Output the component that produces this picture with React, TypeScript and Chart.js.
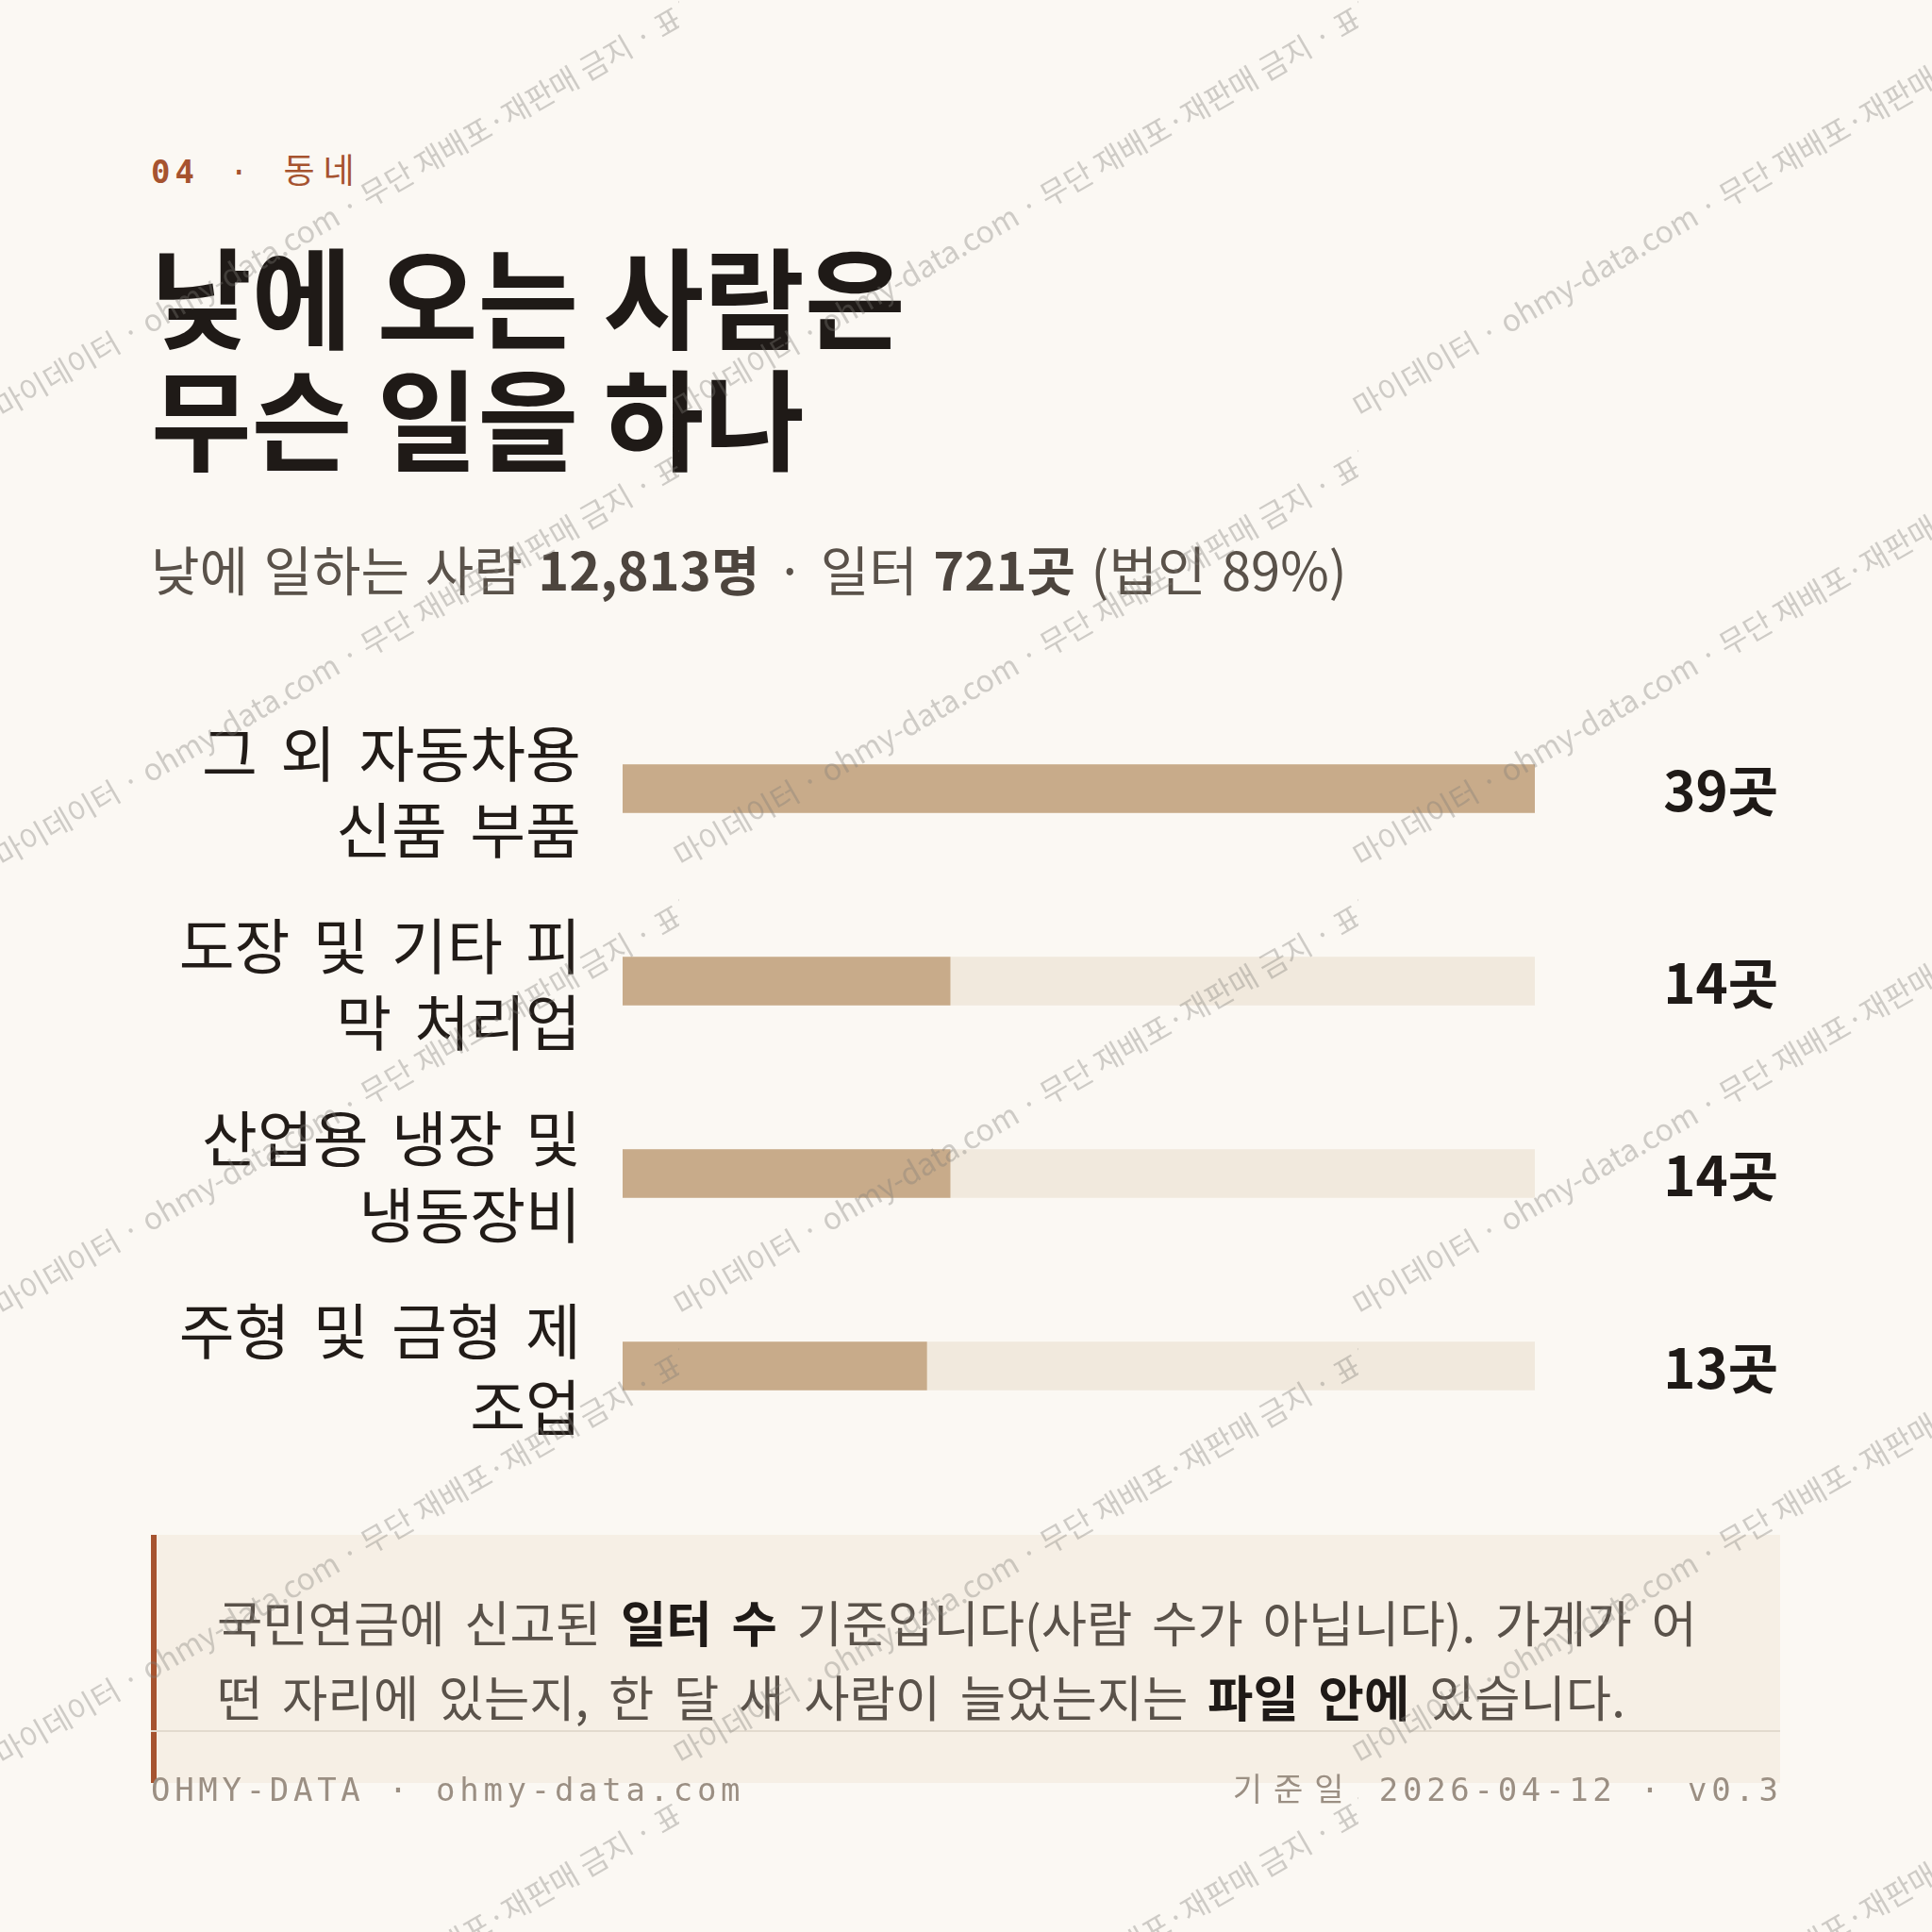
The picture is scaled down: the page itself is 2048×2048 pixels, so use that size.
import React, { useEffect, useRef } from "react";
import { Chart, registerables } from "chart.js";

Chart.register(...registerables);

// ---- data ----
const categories: string[][] = [
  ["그 외 자동차용", "신품 부품"],
  ["도장 및 기타 피", "막 처리업"],
  ["산업용 냉장 및", "냉동장비"],
  ["주형 및 금형 제", "조업"],
];
const values: number[] = [39, 14, 14, 13];
const valueUnit = "곳";

const kickerNum = "04";
const kickerText = "동네";
const titleLines: string[] = ["낮에 오는 사람은", "무슨 일을 하나"];
const footerLeft = "OHMY-DATA · ohmy-data.com";
const footerDateLabel = "기준일";
const footerDate = "2026-04-12 · v0.3";
const watermarkText = "마이데이터 · ohmy-data.com · 무단 재배포·재판매 금지 · 표본 수집 금지";

// ---- style ----
const KOR = '"Noto Sans CJK KR", "Noto Sans", sans-serif';
const MONO = '"DejaVu Sans Mono", "Noto Sans CJK KR", monospace';
const BG = "#fbf8f3";
const INK = "#1f1a17";
const SUB = "#5a524a";
const ACCENT = "#a6532f";
const BAR = "#c8ab8a";
const TRACK = "#f1e9dd";

function BarChart() {
  const ref = useRef<HTMLCanvasElement>(null);
  useEffect(() => {
    const maxV = Math.max(...values);
    const spacingPlugin = {
      id: "wordSpacing",
      beforeDraw(chart: any) {
        try {
          chart.ctx.wordSpacing = "10px";
        } catch (e) {}
      },
    };
    const valuePlugin = {
      id: "valueLabels",
      afterDatasetsDraw(chart: any) {
        const { ctx, chartArea, scales } = chart;
        ctx.save();
        ctx.font = `700 58px ${KOR}`;
        ctx.fillStyle = INK;
        ctx.textAlign = "right";
        ctx.textBaseline = "middle";
        values.forEach((v, i) => {
          const y = scales.y.getPixelForValue(i);
          ctx.fillText(`${v}${valueUnit}`, chartArea.right + 258, y + 2);
        });
        ctx.restore();
      },
    };
    const chart = new Chart(ref.current as HTMLCanvasElement, {
      type: "bar",
      data: {
        labels: categories,
        datasets: [
          {
            data: values,
            backgroundColor: BAR,
            order: 1,
            grouped: false,
            barThickness: 51,
            borderWidth: 0,
          } as any,
          {
            data: values.map(() => maxV),
            backgroundColor: TRACK,
            order: 2,
            grouped: false,
            barThickness: 51,
            borderWidth: 0,
          } as any,
        ],
      },
      options: {
        indexAxis: "y",
        responsive: false,
        animation: false,
        devicePixelRatio: 1,
        layout: { padding: { left: 0, right: 421, top: 100, bottom: 100 } },
        plugins: { legend: { display: false }, tooltip: { enabled: false } },
        scales: {
          x: { display: false, min: 0, max: maxV },
          y: {
            grid: { display: false, drawTicks: false },
            border: { display: false },
            ticks: {
              color: "#221c18",
              padding: 44,
              labelOffset: 3,
              font: { family: KOR, size: 64, lineHeight: 1.266 },
            },
            afterFit(scale: any) {
              scale.width = 660;
              scale.paddingTop = 0;
              scale.paddingBottom = 0;
            },
          },
        },
      } as any,
      plugins: [spacingPlugin, valuePlugin],
    });
    return () => chart.destroy();
  }, []);
  return (
    <canvas
      ref={ref}
      width={2048}
      height={1016}
      style={{ position: "absolute", left: 0, top: 634, width: 2048, height: 1016 }}
    />
  );
}

function Watermark() {
  const W = 720;
  const H = 476;
  const firstBottom = 446;
  const bleed = 24;
  const tiles: React.ReactNode[] = [];
  for (let r = 0; r < 5; r++) {
    for (let c = 0; c < 3; c++) {
      const bottom = firstBottom + r * H;
      tiles.push(
        <div
          key={`${r}-${c}`}
          style={{
            position: "absolute",
            left: c * W - bleed,
            top: bottom - H,
            width: W + bleed,
            height: H + 10,
            overflow: "hidden",
          }}
        >
          <span
            style={{
              position: "absolute",
              left: bleed + 4,
              bottom: 10,
              whiteSpace: "nowrap",
              transformOrigin: "0 100%",
              transform: "rotate(-30deg)",
              fontFamily: KOR,
              fontSize: 32,
              lineHeight: "32px",
              color: "rgba(128,124,120,0.36)",
            }}
          >
            {watermarkText}
          </span>
        </div>
      );
    }
  }
  return (
    <div style={{ position: "absolute", left: 0, top: 0, width: 2048, height: 2048, pointerEvents: "none" }}>
      {tiles}
    </div>
  );
}

export default function App() {
  return (
    <div
      style={{
        position: "absolute",
        left: 0,
        top: 0,
        width: 2048,
        height: 2048,
        overflow: "hidden",
        background: BG,
        fontFamily: KOR,
      }}
    >
      {/* kicker */}
      <div
        style={{
          position: "absolute",
          left: 160,
          top: 158,
          height: 40,
          lineHeight: "40px",
          fontSize: 34,
          color: ACCENT,
          whiteSpace: "nowrap",
          fontFamily: MONO,
          letterSpacing: "5px",
        }}
      >
        <span style={{ fontWeight: 700 }}>{kickerNum}</span>
        <span style={{ marginLeft: 32, marginRight: 32 }}>·</span>
        <span style={{ fontFamily: KOR, fontSize: 36, letterSpacing: "9px" }}>{kickerText}</span>
      </div>

      {/* title */}
      <div
        style={{
          position: "absolute",
          left: 160,
          top: 246,
          fontSize: 116,
          lineHeight: "129px",
          fontWeight: 700,
          color: INK,
          whiteSpace: "nowrap",
        }}
      >
        {titleLines.map((l, i) => (
          <div key={i}>{l}</div>
        ))}
      </div>

      {/* subtitle */}
      <div
        style={{
          position: "absolute",
          left: 160,
          top: 567,
          fontSize: 56,
          lineHeight: "70px",
          color: SUB,
          whiteSpace: "nowrap",
          wordSpacing: "4px",
        }}
      >
        낮에 일하는 사람 <b style={{ fontWeight: 700, color: "#4d453e" }}>12,813명</b> · 일터{" "}
        <b style={{ fontWeight: 700, color: "#4d453e" }}>721곳</b> (법인 89%)
      </div>

      <BarChart />

      {/* note box */}
      <div
        style={{
          position: "absolute",
          left: 160,
          top: 1627,
          width: 1727,
          height: 263,
          boxSizing: "border-box",
          background: "#f6efe5",
          borderLeft: `6px solid ${ACCENT}`,
        }}
      />
      <div
        style={{
          position: "absolute",
          left: 230,
          top: 1679,
          fontSize: 52.5,
          lineHeight: "79px",
          color: SUB,
          whiteSpace: "nowrap",
          wordSpacing: "9px",
        }}
      >
        <div>
          국민연금에 신고된 <b style={{ color: INK }}>일터 수</b> 기준입니다(사람 수가 아닙니다). 가게가 어
        </div>
        <div>
          떤 자리에 있는지, 한 달 새 사람이 늘었는지는 <b style={{ color: INK }}>파일 안에</b> 있습니다.
        </div>
      </div>

      {/* footer */}
      <div style={{ position: "absolute", left: 160, top: 1834, width: 1727, height: 2, background: "#e2dace" }} />
      <div
        style={{
          position: "absolute",
          left: 160,
          top: 1877,
          height: 40,
          lineHeight: "40px",
          fontFamily: MONO,
          fontSize: 34,
          letterSpacing: "4.7px",
          color: "#9b8f83",
          whiteSpace: "nowrap",
        }}
      >
        {footerLeft}
      </div>
      <div
        style={{
          position: "absolute",
          right: 2048 - 1885 - 4.7,
          top: 1877,
          height: 40,
          lineHeight: "40px",
          fontFamily: MONO,
          fontSize: 34,
          letterSpacing: "4.7px",
          color: "#9b8f83",
          whiteSpace: "nowrap",
          textAlign: "right",
        }}
      >
        <span style={{ letterSpacing: "12px" }}>{footerDateLabel}</span> {footerDate}
      </div>

      <Watermark />
    </div>
  );
}
